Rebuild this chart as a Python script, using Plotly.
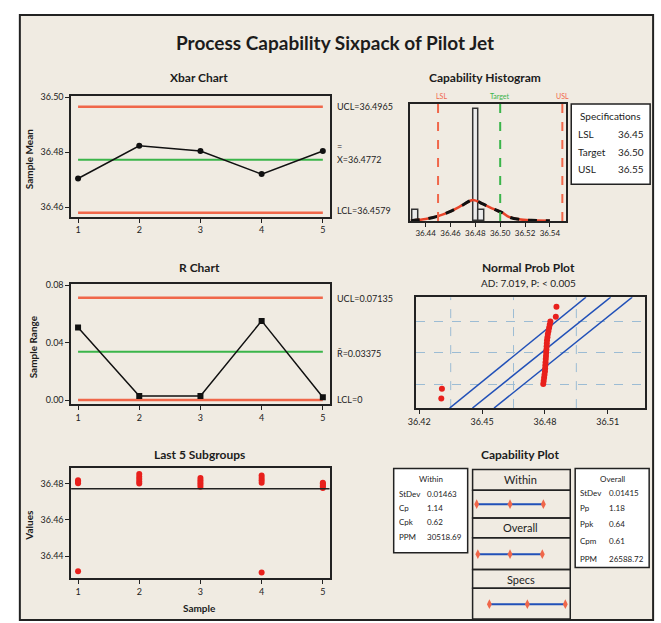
import plotly.graph_objects as go

W, H = 661, 623

# ---------------- data ----------------
samples = [1, 2, 3, 4, 5]
xbar_means = [36.4704, 36.4823, 36.4804, 36.4720, 36.4804]
xbar_ucl, xbar_cl, xbar_lcl = 36.4965, 36.4772, 36.4579
xbar_ticks = [36.46, 36.48, 36.50]

ranges = [0.0505, 0.0028, 0.0028, 0.0552, 0.0020]
r_ucl, r_cl, r_lcl = 0.07135, 0.03375, 0.0
r_ticks = [0.00, 0.04, 0.08]

sub1 = [36.4802, 36.4808, 36.4812, 36.4818, 36.4318]
sub2 = [36.4800, 36.4812, 36.4825, 36.4838, 36.4852]
sub3 = [36.4782, 36.4795, 36.4806, 36.4818, 36.4830]
sub4 = [36.4805, 36.4818, 36.4830, 36.4845, 36.4310]
sub5 = [36.4775, 36.4785, 36.4792, 36.4800, 36.4805]
subgroups = [sub1, sub2, sub3, sub4, sub5]
last5_ticks = [36.44, 36.46, 36.48]

hist_centers = [36.4318, 36.4805, 36.4850]
hist_counts = [2, 21, 2]
curve_x = [36.428, 36.435, 36.44, 36.45, 36.46, 36.47, 36.478, 36.486, 36.495, 36.502,
           36.507, 36.515, 36.525, 36.54]
curve_y = [0.05, 0.2, 0.35, 0.9, 1.8, 3.0, 3.95, 3.2, 2.2, 1.5, 0.75, 0.3, 0.1, 0.02]
lsl, target, usl = 36.45, 36.50, 36.55
hist_ticks = [36.44, 36.46, 36.48, 36.50, 36.52, 36.54]

npp_vals = [36.4305, 36.4308, 36.4792, 36.4794, 36.4796, 36.4798, 36.4800, 36.4801,
            36.4802, 36.4803, 36.4804, 36.4805, 36.4806, 36.4807, 36.4808, 36.4809,
            36.4810, 36.4812, 36.4814, 36.4817, 36.4820, 36.4823, 36.4826, 36.4852, 36.4855]
npp_z = [-1.46, -1.15, -1.00, -0.90, -0.80, -0.70, -0.60, -0.50, -0.40, -0.30, -0.20,
         -0.10, 0.00, 0.10, 0.20, 0.30, 0.40, 0.50, 0.60, 0.70, 0.80, 0.90, 1.00, 1.15, 1.47]
npp_line_z = [-1.77, 1.78]
npp_fit_x = [36.4454, 36.5114]
npp_lower_x = [36.4345, 36.4996]
npp_upper_x = [36.4557, 36.5217]
npp_ticks = [36.42, 36.45, 36.48, 36.51]
npp_xgrid = [36.435, 36.465, 36.495]
npp_ygrid = [-1, 0, 1]

cap_within = [36.4333, 36.4772, 36.5211]
cap_overall = [36.4348, 36.4772, 36.5197]
cap_specs = [36.45, 36.50, 36.55]

within_stats = [("StDev", "0.01463"), ("Cp", "1.14"), ("Cpk", "0.62"), ("PPM", "30518.69")]
overall_stats = [("StDev", "0.01415"), ("Pp", "1.18"), ("Ppk", "0.64"), ("Cpm", "0.61"),
                 ("PPM", "26588.72")]
spec_rows = [("LSL", "36.45"), ("Target", "36.50"), ("USL", "36.55")]

# ---------------- helpers ----------------
def px(x):
    return x / W


def py(y):
    return 1 - y / H


FONT = "Lato"
DARK = "#1c1c1c"
RED = "#f0674a"
GREEN = "#3bb54a"
BLUE = "#2150b8"
PTRED = "#e8201c"
GRID = "#9cbcd4"

annotations = []


def txt(x, y, s, size=10, color=DARK, xanchor="center", angle=0, bold=False):
    annotations.append(dict(
        x=px(x), y=py(y), xref="paper", yref="paper", text=f"<b>{s}</b>" if bold else s,
        showarrow=False, xanchor=xanchor, yanchor="middle", textangle=angle,
        font=dict(family=FONT, size=size, color=color)))


shapes = []


def box(x0, y0, x1, y1, fill="rgba(0,0,0,0)", width=1.5, layer="above"):
    shapes.append(dict(type="rect", xref="paper", yref="paper", x0=px(x0), x1=px(x1),
                       y0=py(y1), y1=py(y0), line=dict(color="#222", width=width),
                       fillcolor=fill, layer=layer))


fig = go.Figure()

# ---------------- Xbar chart ----------------
for val, col in [(xbar_ucl, RED), (xbar_lcl, RED)]:
    fig.add_trace(go.Scatter(x=[samples[0], samples[-1]], y=[val, val], mode="lines",
                             line=dict(color=col, width=2.5), xaxis="x", yaxis="y"))
fig.add_trace(go.Scatter(x=[samples[0], samples[-1]], y=[xbar_cl, xbar_cl], mode="lines",
                         line=dict(color=GREEN, width=2), xaxis="x", yaxis="y"))
fig.add_trace(go.Scatter(x=samples, y=xbar_means, mode="lines+markers",
                         line=dict(color="#111", width=1.5),
                         marker=dict(color="#111", size=6), xaxis="x", yaxis="y"))

# ---------------- R chart ----------------
for val, col in [(r_ucl, RED), (r_lcl, RED)]:
    fig.add_trace(go.Scatter(x=[samples[0], samples[-1]], y=[val, val], mode="lines",
                             line=dict(color=col, width=2.5), xaxis="x2", yaxis="y2"))
fig.add_trace(go.Scatter(x=[samples[0], samples[-1]], y=[r_cl, r_cl], mode="lines",
                         line=dict(color=GREEN, width=2), xaxis="x2", yaxis="y2"))
fig.add_trace(go.Scatter(x=samples, y=ranges, mode="lines+markers",
                         line=dict(color="#111", width=1.5),
                         marker=dict(color="#111", size=6, symbol="square"),
                         xaxis="x2", yaxis="y2"))

# ---------------- Last 5 subgroups ----------------
for s, vals in zip(samples, subgroups):
    fig.add_trace(go.Scatter(x=[s] * len(vals), y=vals, mode="markers",
                             marker=dict(color=PTRED, size=6), xaxis="x3", yaxis="y3"))
shapes.append(dict(type="line", xref="x3 domain", yref="y3", x0=0, x1=1, y0=xbar_cl,
                   y1=xbar_cl, line=dict(color="#222", width=1.5)))

# ---------------- Capability histogram ----------------
fig.add_trace(go.Bar(x=hist_centers, y=hist_counts, width=0.0045,
                     marker=dict(color="#ececec", line=dict(color="#333", width=1.5)),
                     xaxis="x4", yaxis="y4"))
fig.add_trace(go.Scatter(x=curve_x, y=curve_y, mode="lines", line_shape="spline",
                         line=dict(color="#e8442a", width=2.5), xaxis="x4", yaxis="y4"))
fig.add_trace(go.Scatter(x=curve_x, y=curve_y, mode="lines", line_shape="spline",
                         line=dict(color="#111", width=3, dash="dash"),
                         xaxis="x4", yaxis="y4"))
for v, col in [(lsl, RED), (target, GREEN), (usl, RED)]:
    shapes.append(dict(type="line", xref="x4", yref="y4 domain", x0=v, x1=v, y0=0, y1=1,
                       line=dict(color=col, width=2, dash="dash")))

# ---------------- Normal prob plot ----------------
for g in npp_xgrid:
    fig.add_trace(go.Scatter(x=[g, g], y=npp_line_z, mode="lines",
                             line=dict(color=GRID, width=1, dash="dash"),
                             xaxis="x5", yaxis="y5"))
for xs in (npp_lower_x, npp_fit_x, npp_upper_x):
    fig.add_trace(go.Scatter(x=xs, y=npp_line_z, mode="lines",
                             line=dict(color=BLUE, width=1.5), xaxis="x5", yaxis="y5"))
fig.add_trace(go.Scatter(x=npp_vals, y=npp_z, mode="markers",
                         marker=dict(color=PTRED, size=6), xaxis="x5", yaxis="y5"))

# ---------------- Capability plot ----------------
for yrow, vals in [(2, cap_within), (1, cap_overall), (0, cap_specs)]:
    fig.add_trace(go.Scatter(x=vals, y=[yrow] * len(vals), mode="lines+markers",
                             line=dict(color=BLUE, width=2),
                             marker=dict(color=RED, size=7, symbol="diamond-tall"),
                             xaxis="x6", yaxis="y6"))

# ---------------- axes ----------------
tickfont = dict(family=FONT, size=9, color=DARK)
common = dict(showline=True, mirror=True, linecolor="#222", linewidth=1.5, showgrid=False,
              zeroline=False, ticks="outside", ticklen=4, tickcolor="#222", tickfont=tickfont)

layout_axes = dict(
    xaxis=dict(domain=[px(63), px(325)], range=[0.887, 5.11], tickvals=samples, anchor="y",
               **common),
    yaxis=dict(domain=[py(214), py(92)], range=[36.4564, 36.5004], tickvals=xbar_ticks,
               tickformat=".2f", anchor="x", **common),
    xaxis2=dict(domain=[px(63), px(325)], range=[0.887, 5.11], tickvals=samples,
                anchor="y2", **common),
    yaxis2=dict(domain=[py(403), py(282)], range=[-0.0028, 0.0807], tickvals=r_ticks,
                tickformat=".2f", anchor="x2", **common),
    xaxis3=dict(domain=[px(63), px(325)], range=[0.887, 5.11], tickvals=samples,
                anchor="y3", **common),
    yaxis3=dict(domain=[py(579), py(468)], range=[36.4278, 36.4883], tickvals=last5_ticks,
                tickformat=".2f", anchor="x3", **common),
    xaxis4=dict(domain=[px(407), px(565)], range=[36.4278, 36.5532], tickvals=hist_ticks,
                tickformat=".2f", anchor="y4", **{**common, "tickfont": dict(family=FONT, size=8, color=DARK)}),
    yaxis4=dict(domain=[py(218), py(100)], range=[0, 22], anchor="x4", showticklabels=False,
                **{**common, "ticks": ""}),
    xaxis5=dict(domain=[px(413), px(645)], range=[36.4186, 36.5279], tickvals=npp_ticks,
                tickformat=".2f", anchor="y5", **common),
    yaxis5=dict(domain=[py(407), py(295)], range=[-1.77, 1.78], anchor="x5",
                showticklabels=False, **{**common, "ticks": "", "showgrid": True},
                tickvals=npp_ygrid, gridcolor=GRID, griddash="dash", gridwidth=1),
    xaxis6=dict(domain=[px(470), px(569)], range=[36.4279, 36.5565], anchor="y6",
                visible=False),
    yaxis6=dict(domain=[py(620), py(469)], range=[-0.297, 2.693], anchor="x6",
                visible=False),
)

# ---------------- frame & boxes ----------------
box(11, 10, 653, 621, fill="#f0ebe2", width=2, layer="below")
box(570, 100, 650, 181, fill="white", width=1.5)
box(390, 468, 465, 553, fill="white", width=1.5)
box(574, 468, 649, 568, fill="white", width=1.5)
for y0, y1 in [(469, 490), (490, 518), (518, 538), (538, 570), (570, 589), (589, 620)]:
    box(470, y0, 569, y1, width=1.5)

# ---------------- text ----------------
txt(331, 38, "Process Capability Sixpack of Pilot Jet", size=19, bold=True)
txt(193, 73, "Xbar Chart", size=12, bold=True)
txt(483, 73, "Capability Histogram", size=12, bold=True)
txt(193, 265, "R Chart", size=12, bold=True)
txt(527, 265, "Normal Prob Plot", size=12, bold=True)
txt(527, 281, "AD: 7.019, P: < 0.005", size=10)
txt(193, 454, "Last 5 Subgroups", size=12, bold=True)
txt(518, 454, "Capability Plot", size=12, bold=True)

txt(20, 155, "Sample Mean", size=10, bold=True, angle=-90)
txt(24, 345, "Sample Range", size=10, bold=True, angle=-90)
txt(20, 525, "Values", size=10, bold=True, angle=-90)
txt(193, 609, "Sample", size=10, bold=True)

txt(331, 102, f"UCL={xbar_ucl:.4f}", size=9, xanchor="left")
txt(331, 143, "=", size=9, xanchor="left")
txt(331, 156, f"X={xbar_cl:.4f}", size=9, xanchor="left")
txt(331, 207, f"LCL={xbar_lcl:.4f}", size=9, xanchor="left")
txt(331, 296, f"UCL={r_ucl:.5f}", size=9, xanchor="left")
txt(331, 352, f"R\u0304={r_cl:.5f}", size=9, xanchor="left")
txt(331, 398, "LCL=0", size=9, xanchor="left")

txt(438, 92, "LSL", size=7, color=RED)
txt(498, 92, "Target", size=7, color=GREEN)
txt(561, 92, "USL", size=7, color=RED)

txt(610, 112, "Specifications", size=10)
for (lab, val), yy in zip(spec_rows, [130, 148, 166]):
    txt(575, yy, lab, size=10, xanchor="left")
    txt(646, yy, val, size=10, xanchor="right")

txt(428, 479, "Within", size=8)
for (lab, val), yy in zip(within_stats, [494, 508, 522, 537]):
    txt(393, yy, lab, size=8, xanchor="left")
    txt(422, yy, val, size=8, xanchor="left")

txt(612, 479, "Overall", size=8)
for (lab, val), yy in zip(overall_stats, [493, 508, 524, 541, 559]):
    txt(577, yy, lab, size=8, xanchor="left")
    txt(606, yy, val, size=8, xanchor="left")

txt(519, 479, "Within", size=11)
txt(519, 528, "Overall", size=11)
txt(519, 580, "Specs", size=11)

fig.update_layout(
    width=W, height=H, margin=dict(l=0, r=0, t=0, b=0), showlegend=False,
    paper_bgcolor="white", plot_bgcolor="white", font=dict(family=FONT, color=DARK),
    shapes=shapes, annotations=annotations, bargap=0, hovermode=False, **layout_axes)

fig.write_html("out.html", config={"displayModeBar": False},
               post_script="document.body.style.margin='0';document.body.style.overflow='hidden';")
